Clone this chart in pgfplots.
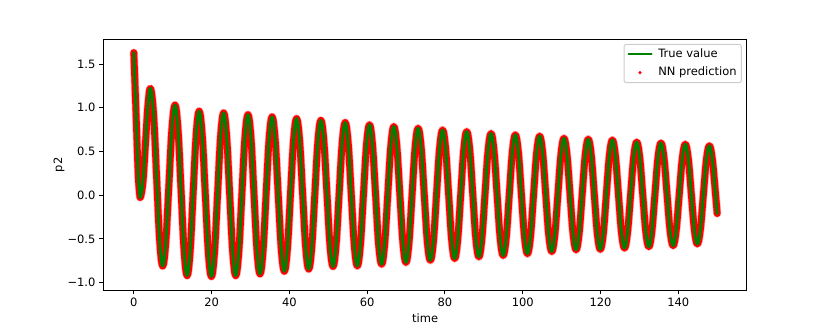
\documentclass[border=0pt]{standalone}
\usepackage{fontspec}
\setmainfont{DejaVu Sans}
\usepackage{pgfplots}
\usepackage{pgfplotstable}
\pgfplotsset{compat=1.18}
\definecolor{mplgreen}{RGB}{0,128,0}
\definecolor{legendgray}{RGB}{204,204,204}

% p2 over time, read off at extrema, crossings and the points between
\pgfplotstableread{
t p2
0 1.63
0.55 0.96
1.1 0.27
1.45 0.04
1.72 -0.02
2.365 0.162
3.01 0.60
3.655 1.038
4.3 1.22
5.08 0.923
5.86 0.205
6.64 -0.513
7.42 -0.81
8.215 -0.540
9.01 0.11
9.805 0.760
10.6 1.03
11.375 0.744
12.15 0.055
12.925 -0.634
13.7 -0.92
14.475 -0.645
15.25 0.02
16.025 0.685
16.8 0.96
17.59 0.683
18.375 0.015
19.16 -0.653
19.95 -0.93
20.74 -0.656
21.525 0.005
22.31 0.666
23.1 0.94
23.875 0.668
24.65 0.01
25.425 -0.648
26.2 -0.92
26.99 -0.650
27.775 0.0
28.56 0.650
29.35 0.92
30.125 0.653
30.9 0.01
31.675 -0.633
32.45 -0.90
33.225 -0.638
34.0 -0.003
34.775 0.632
35.55 0.895
36.34 0.637
37.125 0.013
37.91 -0.611
38.7 -0.87
39.49 -0.614
40.275 0.003
41.06 0.620
41.85 0.875
42.63 0.623
43.41 0.015
44.19 -0.593
44.97 -0.845
45.75 -0.596
46.535 0.005
47.32 0.606
48.1 0.855
48.88 0.610
49.66 0.02
50.44 -0.570
51.22 -0.815
52.0 -0.574
52.785 0.008
53.57 0.589
54.35 0.83
55.13 0.590
55.91 0.01
56.69 -0.570
57.47 -0.81
58.25 -0.574
59.035 -0.003
59.82 0.568
60.6 0.805
61.38 0.572
62.16 0.008
62.94 -0.556
63.72 -0.79
64.5 -0.560
65.285 -0.003
66.07 0.554
66.85 0.785
67.63 0.558
68.41 0.008
69.19 -0.542
69.97 -0.77
70.75 -0.546
71.535 -0.003
72.32 0.540
73.1 0.765
73.89 0.544
74.675 0.01
75.46 -0.524
76.25 -0.745
77.04 -0.527
77.825 0.0
78.61 0.527
79.4 0.745
80.175 0.530
80.95 0.01
81.725 -0.510
82.5 -0.725
83.275 -0.512
84.05 0.001
84.825 0.514
85.6 0.727
86.38 0.517
87.16 0.011
87.94 -0.495
88.72 -0.705
89.5 -0.498
90.285 0.0
91.07 0.498
91.85 0.705
92.63 0.501
93.41 0.008
94.19 -0.485
94.97 -0.69
95.75 -0.488
96.535 0.0
97.32 0.488
98.1 0.69
98.88 0.491
99.66 0.01
100.44 -0.471
101.22 -0.67
102.0 -0.472
102.785 0.003
103.57 0.478
104.35 0.675
105.13 0.482
105.91 0.015
106.69 -0.452
107.47 -0.645
108.25 -0.455
109.035 0.003
109.82 0.461
110.6 0.65
111.38 0.464
112.16 0.013
112.94 -0.438
113.72 -0.625
114.5 -0.439
115.285 0.008
116.07 0.455
116.85 0.64
117.625 0.455
118.4 0.01
119.175 -0.435
119.95 -0.62
120.725 -0.437
121.5 0.005
122.275 0.447
123.05 0.63
123.83 0.450
124.61 0.013
125.39 -0.424
126.17 -0.605
126.95 -0.427
127.735 0.001
128.52 0.429
129.3 0.607
130.08 0.432
130.86 0.009
131.64 -0.414
132.42 -0.59
133.2 -0.416
133.985 0.004
134.77 0.424
135.55 0.597
136.33 0.425
137.11 0.01
137.89 -0.405
138.67 -0.578
139.45 -0.407
140.235 0.003
141.02 0.413
141.8 0.583
142.575 0.416
143.35 0.013
144.125 -0.390
144.9 -0.558
145.675 -0.393
146.45 0.004
147.225 0.401
148.0 0.565
148.78 0.40
149.6 0.0
150 -0.21
}\ptwo

\begin{document}
\fontsize{10}{12}\selectfont
\begin{tikzpicture}
\path[use as bounding box] (-90.1pt,-36.6pt) rectangle (632.5pt,252.5pt);
\begin{axis}[
  scale only axis,
  width=560pt, height=218.1pt,
  xmin=-7.8, xmax=157.6,
  ymin=-1.085, ymax=1.78,
  xtick={0,20,...,140},
  ytick={-1,-0.5,0,0.5,1,1.5},
  yticklabels={−1.0,−0.5,0.0,0.5,1.0,1.5},
  /pgf/number format/assume math mode=true,
  tick align=outside,
  xtick pos=bottom, ytick pos=left,
  major tick length=3.5pt,
  tick style={black, line width=0.8pt},
  axis line style={line width=0.8pt},
  ticklabel style={font=\fontsize{10}{12}\selectfont},
  xlabel={time},
  ylabel={p2},
  xlabel style={at={(axis description cs:0.5,-0.129)}, anchor=base},
  ylabel style={at={(axis description cs:-0.0645,0.5)}, anchor=base},
  legend cell align=left,
  legend image code/.code={\draw[#1, line width=1.8pt] (0pt,0pt) -- (20pt,0pt);},
  legend style={
    at={(axis description cs:1,1)}, anchor=north east,
    xshift=-4.3pt, yshift=-3.9pt,
    draw=legendgray, line width=0.8pt, rounded corners=2pt, fill=white,
    font=\fontsize{10}{12}\selectfont,
    inner xsep=3pt, inner ysep=3pt,
    row sep=4.5pt,
    nodes={inner sep=1pt, text height=7.3pt, text depth=2.1pt},
    /tikz/every odd column/.append style={column sep=4pt},
  },
  every axis plot/.append style={line join=round, line cap=round, smooth, tension=0.6},
]
\addplot[red!30, line width=7.2pt, forget plot] table[x=t, y=p2] {\ptwo};
\addplot[red, line width=6pt, forget plot] table[x=t, y=p2] {\ptwo};
\addplot[mplgreen, line width=2.6pt] table[x=t, y=p2] {\ptwo};
\addlegendentry{True value}
\addlegendimage{legend image code/.code={\path[draw=none, fill=none] (0pt,0pt) -- (20pt,0pt); \fill[red, draw=none] (10pt,0pt) circle (1.5pt);}}
\addlegendentry{NN prediction}
\end{axis}
\end{tikzpicture}
\end{document}
